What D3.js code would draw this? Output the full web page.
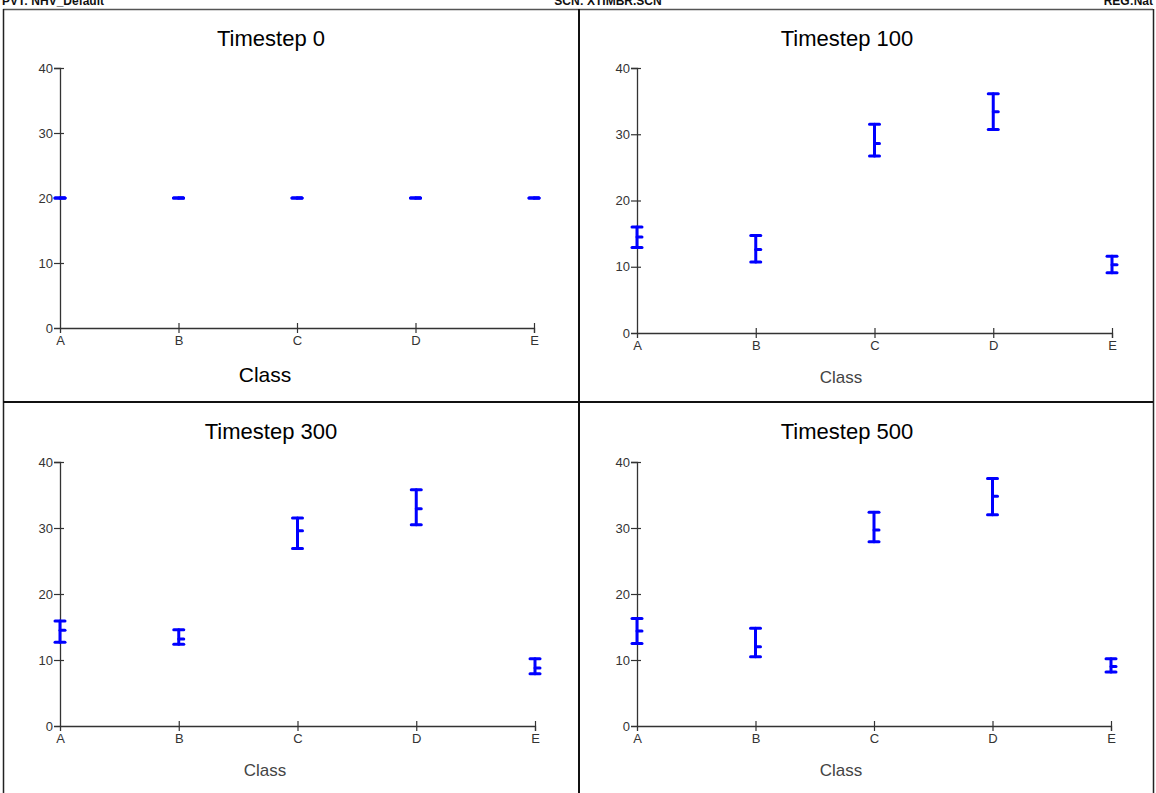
<!DOCTYPE html>
<html>
<head>
<meta charset="utf-8">
<script src="https://cdn.jsdelivr.net/npm/d3@7"></script>
<style>
  body { margin: 0; background: #fff; }
  svg { display: block; font-family: "Liberation Sans", Arial, sans-serif; }
</style>
</head>
<body>
<div id="chart"></div>
<script>
const classes = ['A', 'B', 'C', 'D', 'E']
const timesteps = ['Timestep 0', 'Timestep 100', 'Timestep 300', 'Timestep 500']
const yTicks = [0, 10, 20, 30, 40]
const headerLabels = ['PVT: NHV_Default', 'SCN: XTIMBR.SCN', 'REG:Nat']

// per timestep, per class
const means = [
    [20, 20, 20, 20, 20],
    [14.5, 12.6, 28.6, 33.4, 10.3],
    [14.5, 13.2, 29.6, 32.9, 8.8],
    [14.4, 12.0, 29.7, 34.8, 9.0],
]
const lows = [
    [20, 20, 20, 20, 20],
    [12.9, 10.7, 26.7, 30.7, 9.1],
    [12.7, 12.4, 26.9, 30.5, 7.9],
    [12.5, 10.5, 27.9, 32.0, 8.2],
]
const highs = [
    [20, 20, 20, 20, 20],
    [16.0, 14.7, 31.5, 36.1, 11.6],
    [15.9, 14.6, 31.5, 35.8, 10.2],
    [16.3, 14.8, 32.4, 37.5, 10.2],
]

const width = 1156
const height = 793
const frame = { left: 3, right: 1153, top: 9, midX: 579, midY: 402 }

// panel boxes and the plot area inside each one
const panels = [
    { x: 3, y: 9, ox: 57, oy: 319, top: 59, w: 474, big: true },
    { x: 579, y: 9, ox: 58, oy: 324, top: 59, w: 475, big: false },
    { x: 3, y: 402, ox: 57, oy: 324, top: 60, w: 475, big: false },
    { x: 579, y: 402, ox: 58, oy: 324, top: 60, w: 474, big: false },
]

const svg = d3.select('#chart').append('svg')
    .attr('width', width)
    .attr('height', height)

// header strip, text clipped by the top of the window like the original
svg.append('g')
    .selectAll('text')
    .data(headerLabels)
    .join('text')
    .attr('x', (d, i) => [2, 608, 1153][i])
    .attr('y', 5)
    .attr('text-anchor', (d, i) => ['start', 'middle', 'end'][i])
    .attr('font-size', 12)
    .attr('font-weight', 'bold')
    .attr('fill', '#111')
    .text(d => d)

// frame
const frameG = svg.append('g')
frameG.append('line')
    .attr('x1', frame.left).attr('x2', frame.right)
    .attr('y1', frame.top + 0.5).attr('y2', frame.top + 0.5)
    .attr('stroke', '#555').attr('stroke-width', 1.5)
frameG.append('line')
    .attr('x1', frame.left + 0.5).attr('x2', frame.left + 0.5)
    .attr('y1', frame.top).attr('y2', height)
    .attr('stroke', '#222').attr('stroke-width', 1.5)
frameG.append('line')
    .attr('x1', frame.right + 0.5).attr('x2', frame.right + 0.5)
    .attr('y1', frame.top).attr('y2', height)
    .attr('stroke', '#222').attr('stroke-width', 1.5)
frameG.append('line')
    .attr('x1', frame.midX).attr('x2', frame.midX)
    .attr('y1', frame.top).attr('y2', height)
    .attr('stroke', '#111').attr('stroke-width', 2)
frameG.append('line')
    .attr('x1', frame.left).attr('x2', frame.right)
    .attr('y1', frame.midY).attr('y2', frame.midY)
    .attr('stroke', '#111').attr('stroke-width', 2)

timesteps.forEach((title, k) => {
    const p = panels[k]
    const g = svg.append('g')
        .attr('transform', `translate(${p.x}, ${p.y})`)

    const x = d3.scalePoint()
        .domain(classes)
        .range([p.ox, p.ox + p.w])
    const y = d3.scaleLinear()
        .domain([0, 40])
        .range([p.oy, p.top])

    g.append('text')
        .attr('x', 268)
        .attr('y', 37)
        .attr('text-anchor', 'middle')
        .attr('font-size', 22)
        .attr('fill', '#000')
        .text(title)

    g.append('text')
        .attr('x', 262)
        .attr('y', p.big ? 373 : 374)
        .attr('text-anchor', 'middle')
        .attr('font-size', p.big ? 21 : 17)
        .attr('fill', p.big ? '#000' : '#444')
        .text('Class')

    const yAxis = g.append('g')
        .attr('transform', `translate(${p.ox}, 0)`)
        .call(d3.axisLeft(y).tickValues(yTicks).tickSizeOuter(0).tickSize(6).tickPadding(2))
    yAxis.select('.domain').attr('stroke', '#333').attr('stroke-width', 1.3)
    yAxis.selectAll('.tick line')
        .attr('x2', -6).attr('x1', 4)
        .attr('stroke', '#333').attr('stroke-width', 1.2)
        .filter(d => d === 0).remove()
    yAxis.selectAll('.tick text')
        .attr('x', -7)
        .attr('font-size', 13)
        .attr('font-family', '"Liberation Sans", Arial, sans-serif')
        .attr('fill', '#333')

    const xAxis = g.append('g')
        .attr('transform', `translate(0, ${p.oy})`)
        .call(d3.axisBottom(x).tickSizeOuter(0).tickSize(5).tickPadding(2))
    xAxis.select('.domain').attr('stroke', '#333').attr('stroke-width', 1.3)
    xAxis.selectAll('.tick line')
        .attr('y1', -5).attr('y2', 5)
        .attr('stroke', '#333').attr('stroke-width', 1.2)
        .filter(d => d === classes[0]).remove()
    xAxis.selectAll('.tick text')
        .attr('y', 8)
        .attr('font-size', 13)
        .attr('font-family', '"Liberation Sans", Arial, sans-serif')
        .attr('fill', '#333')

    const rows = classes.map((c, i) => ({ c, mean: means[k][i], low: lows[k][i], high: highs[k][i] }))
    const bars = g.append('g')
        .selectAll('g')
        .data(rows)
        .join('g')
        .attr('stroke', '#0000ff')
        .attr('stroke-width', 3)
        .attr('stroke-linecap', 'round')

    bars.append('line')
        .attr('x1', d => x(d.c)).attr('x2', d => x(d.c))
        .attr('y1', d => y(d.low)).attr('y2', d => y(d.high))
    bars.append('line')
        .attr('x1', d => x(d.c) - 5).attr('x2', d => x(d.c) + 5)
        .attr('y1', d => y(d.high)).attr('y2', d => y(d.high))
    bars.append('line')
        .attr('x1', d => x(d.c) - 5).attr('x2', d => x(d.c) + 5)
        .attr('y1', d => y(d.low)).attr('y2', d => y(d.low))
    bars.append('line')
        .attr('x1', d => x(d.c)).attr('x2', d => x(d.c) + 5)
        .attr('y1', d => y(d.mean)).attr('y2', d => y(d.mean))
})
</script>
</body>
</html>
